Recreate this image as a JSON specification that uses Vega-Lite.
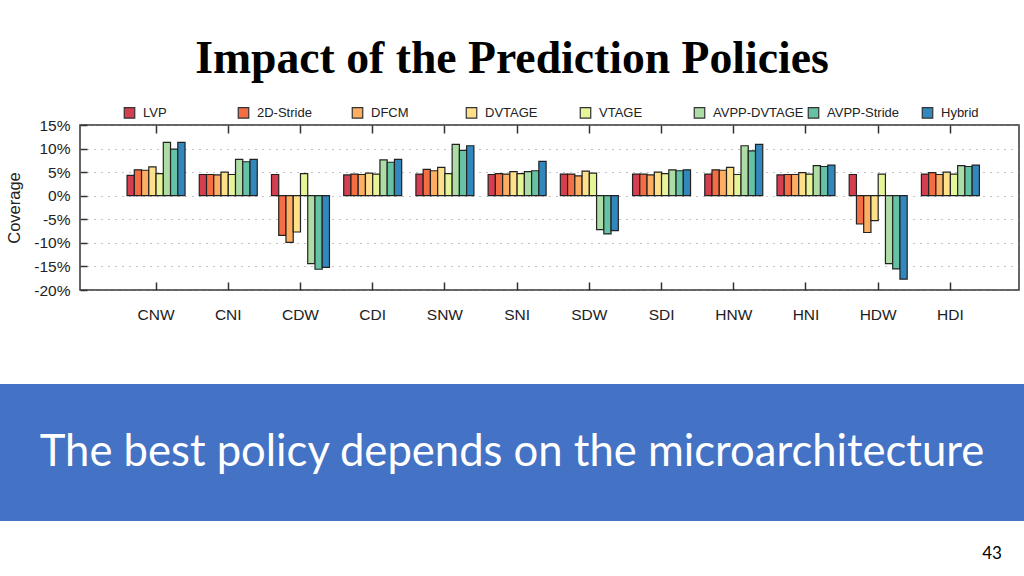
{
  "$schema": "https://vega.github.io/schema/vega-lite/v6.json",
  "background": "white",
  "padding": {"top": 36, "left": 0, "right": 0, "bottom": 0},
  "title": {
    "text": "Impact of the Prediction Policies",
    "font": "Liberation Serif",
    "fontSize": 45.7,
    "fontWeight": "bold",
    "color": "#000000",
    "anchor": "middle",
    "offset": 23
  },
  "config": {
    "view": {"stroke": null},
    "font": "Liberation Sans"
  },
  "spacing": 60,
  "vconcat": [
    {
      "spacing": 5,
      "hconcat": [
        {
          "width": 1,
          "height": 165,
          "data": {"values": [{"blank": ""}]},
          "mark": {"type": "text"},
          "encoding": {"text": {"field": "blank", "type": "nominal"}}
        },
        {
          "width": 939,
          "height": 165,
          "view": {"stroke": "#333333", "strokeWidth": 1.5},
          "data": {
            "values": [
              {"config": "CNW", "policy": "LVP", "coverage": 4.3},
              {"config": "CNW", "policy": "2D-Stride", "coverage": 5.5},
              {"config": "CNW", "policy": "DFCM", "coverage": 5.4},
              {"config": "CNW", "policy": "DVTAGE", "coverage": 6.1},
              {"config": "CNW", "policy": "VTAGE", "coverage": 4.7},
              {"config": "CNW", "policy": "AVPP-DVTAGE", "coverage": 11.3},
              {"config": "CNW", "policy": "AVPP-Stride", "coverage": 9.9},
              {"config": "CNW", "policy": "Hybrid", "coverage": 11.3},
              {"config": "CNI", "policy": "LVP", "coverage": 4.5},
              {"config": "CNI", "policy": "2D-Stride", "coverage": 4.5},
              {"config": "CNI", "policy": "DFCM", "coverage": 4.4},
              {"config": "CNI", "policy": "DVTAGE", "coverage": 5.0},
              {"config": "CNI", "policy": "VTAGE", "coverage": 4.5},
              {"config": "CNI", "policy": "AVPP-DVTAGE", "coverage": 7.7},
              {"config": "CNI", "policy": "AVPP-Stride", "coverage": 7.2},
              {"config": "CNI", "policy": "Hybrid", "coverage": 7.7},
              {"config": "CDW", "policy": "LVP", "coverage": 4.5},
              {"config": "CDW", "policy": "2D-Stride", "coverage": -8.4},
              {"config": "CDW", "policy": "DFCM", "coverage": -9.9},
              {"config": "CDW", "policy": "DVTAGE", "coverage": -7.7},
              {"config": "CDW", "policy": "VTAGE", "coverage": 4.7},
              {"config": "CDW", "policy": "AVPP-DVTAGE", "coverage": -14.4},
              {"config": "CDW", "policy": "AVPP-Stride", "coverage": -15.6},
              {"config": "CDW", "policy": "Hybrid", "coverage": -15.2},
              {"config": "CDI", "policy": "LVP", "coverage": 4.4},
              {"config": "CDI", "policy": "2D-Stride", "coverage": 4.6},
              {"config": "CDI", "policy": "DFCM", "coverage": 4.5},
              {"config": "CDI", "policy": "DVTAGE", "coverage": 4.8},
              {"config": "CDI", "policy": "VTAGE", "coverage": 4.6},
              {"config": "CDI", "policy": "AVPP-DVTAGE", "coverage": 7.6},
              {"config": "CDI", "policy": "AVPP-Stride", "coverage": 7.1},
              {"config": "CDI", "policy": "Hybrid", "coverage": 7.7},
              {"config": "SNW", "policy": "LVP", "coverage": 4.6},
              {"config": "SNW", "policy": "2D-Stride", "coverage": 5.6},
              {"config": "SNW", "policy": "DFCM", "coverage": 5.3},
              {"config": "SNW", "policy": "DVTAGE", "coverage": 6.0},
              {"config": "SNW", "policy": "VTAGE", "coverage": 4.7},
              {"config": "SNW", "policy": "AVPP-DVTAGE", "coverage": 10.9},
              {"config": "SNW", "policy": "AVPP-Stride", "coverage": 9.6},
              {"config": "SNW", "policy": "Hybrid", "coverage": 10.6},
              {"config": "SNI", "policy": "LVP", "coverage": 4.5},
              {"config": "SNI", "policy": "2D-Stride", "coverage": 4.7},
              {"config": "SNI", "policy": "DFCM", "coverage": 4.6},
              {"config": "SNI", "policy": "DVTAGE", "coverage": 5.1},
              {"config": "SNI", "policy": "VTAGE", "coverage": 4.7},
              {"config": "SNI", "policy": "AVPP-DVTAGE", "coverage": 5.1},
              {"config": "SNI", "policy": "AVPP-Stride", "coverage": 5.3},
              {"config": "SNI", "policy": "Hybrid", "coverage": 7.3},
              {"config": "SDW", "policy": "LVP", "coverage": 4.6},
              {"config": "SDW", "policy": "2D-Stride", "coverage": 4.6},
              {"config": "SDW", "policy": "DFCM", "coverage": 4.2},
              {"config": "SDW", "policy": "DVTAGE", "coverage": 5.2},
              {"config": "SDW", "policy": "VTAGE", "coverage": 4.8},
              {"config": "SDW", "policy": "AVPP-DVTAGE", "coverage": -7.2},
              {"config": "SDW", "policy": "AVPP-Stride", "coverage": -8.1},
              {"config": "SDW", "policy": "Hybrid", "coverage": -7.4},
              {"config": "SDI", "policy": "LVP", "coverage": 4.6},
              {"config": "SDI", "policy": "2D-Stride", "coverage": 4.6},
              {"config": "SDI", "policy": "DFCM", "coverage": 4.4},
              {"config": "SDI", "policy": "DVTAGE", "coverage": 5.0},
              {"config": "SDI", "policy": "VTAGE", "coverage": 4.7},
              {"config": "SDI", "policy": "AVPP-DVTAGE", "coverage": 5.5},
              {"config": "SDI", "policy": "AVPP-Stride", "coverage": 5.3},
              {"config": "SDI", "policy": "Hybrid", "coverage": 5.5},
              {"config": "HNW", "policy": "LVP", "coverage": 4.6},
              {"config": "HNW", "policy": "2D-Stride", "coverage": 5.5},
              {"config": "HNW", "policy": "DFCM", "coverage": 5.4},
              {"config": "HNW", "policy": "DVTAGE", "coverage": 6.0},
              {"config": "HNW", "policy": "VTAGE", "coverage": 4.5},
              {"config": "HNW", "policy": "AVPP-DVTAGE", "coverage": 10.6},
              {"config": "HNW", "policy": "AVPP-Stride", "coverage": 9.5},
              {"config": "HNW", "policy": "Hybrid", "coverage": 10.9},
              {"config": "HNI", "policy": "LVP", "coverage": 4.4},
              {"config": "HNI", "policy": "2D-Stride", "coverage": 4.5},
              {"config": "HNI", "policy": "DFCM", "coverage": 4.5},
              {"config": "HNI", "policy": "DVTAGE", "coverage": 4.9},
              {"config": "HNI", "policy": "VTAGE", "coverage": 4.6},
              {"config": "HNI", "policy": "AVPP-DVTAGE", "coverage": 6.4},
              {"config": "HNI", "policy": "AVPP-Stride", "coverage": 6.2},
              {"config": "HNI", "policy": "Hybrid", "coverage": 6.5},
              {"config": "HDW", "policy": "LVP", "coverage": 4.5},
              {"config": "HDW", "policy": "2D-Stride", "coverage": -6.0},
              {"config": "HDW", "policy": "DFCM", "coverage": -7.8},
              {"config": "HDW", "policy": "DVTAGE", "coverage": -5.3},
              {"config": "HDW", "policy": "VTAGE", "coverage": 4.6},
              {"config": "HDW", "policy": "AVPP-DVTAGE", "coverage": -14.4},
              {"config": "HDW", "policy": "AVPP-Stride", "coverage": -15.5},
              {"config": "HDW", "policy": "Hybrid", "coverage": -17.7},
              {"config": "HDI", "policy": "LVP", "coverage": 4.6},
              {"config": "HDI", "policy": "2D-Stride", "coverage": 4.9},
              {"config": "HDI", "policy": "DFCM", "coverage": 4.5},
              {"config": "HDI", "policy": "DVTAGE", "coverage": 5.0},
              {"config": "HDI", "policy": "VTAGE", "coverage": 4.6},
              {"config": "HDI", "policy": "AVPP-DVTAGE", "coverage": 6.4},
              {"config": "HDI", "policy": "AVPP-Stride", "coverage": 6.2},
              {"config": "HDI", "policy": "Hybrid", "coverage": 6.5}
            ]
          },
          "encoding": {
            "x": {
              "field": "config",
              "type": "nominal",
              "sort": ["CNW", "CNI", "CDW", "CDI", "SNW", "SNI", "SDW", "SDI", "HNW", "HNI", "HDW", "HDI"],
              "scale": {"paddingInner": 0.197, "paddingOuter": 0.6, "align": 0.543},
              "axis": {
                "title": null,
                "domain": false,
                "labelAngle": 0,
                "labelFont": "Liberation Sans",
                "labelFontSize": 15.5,
                "labelColor": "#222222",
                "labelPadding": 25,
                "tickSize": -8,
                "tickColor": "#333333",
                "tickWidth": 1.5
              }
            },
            "xOffset": {
              "field": "policy",
              "type": "nominal",
              "sort": ["LVP", "2D-Stride", "DFCM", "DVTAGE", "VTAGE", "AVPP-DVTAGE", "AVPP-Stride", "Hybrid"],
              "scale": {"paddingInner": 0, "paddingOuter": 0}
            },
            "y": {
              "field": "coverage",
              "type": "quantitative",
              "scale": {"domain": [-20, 15], "nice": false, "zero": true},
              "axis": {
                "title": "Coverage",
                "titleFont": "Liberation Sans",
                "titleFontSize": 16.5,
                "titleFontWeight": "normal",
                "titleColor": "#222222",
                "titlePadding": 11,
                "values": [-20, -15, -10, -5, 0, 5, 10, 15],
                "labelExpr": "datum.value + '%'",
                "labelFont": "Liberation Sans",
                "labelFontSize": 15.5,
                "labelColor": "#222222",
                "labelPadding": 17,
                "domain": false,
                "tickSize": -7,
                "tickColor": "#333333",
                "tickWidth": 1.5,
                "grid": true,
                "gridDash": [1, 6],
                "gridColor": "#888888",
                "gridWidth": 1.2
              }
            },
            "color": {
              "field": "policy",
              "type": "nominal",
              "sort": ["LVP", "2D-Stride", "DFCM", "DVTAGE", "VTAGE", "AVPP-DVTAGE", "AVPP-Stride", "Hybrid"],
              "scale": {
                "domain": ["LVP", "2D-Stride", "DFCM", "DVTAGE", "VTAGE", "AVPP-DVTAGE", "AVPP-Stride", "Hybrid"],
                "range": ["#d53e4f", "#f46d43", "#fdae61", "#fee08b", "#e6f598", "#abdda4", "#66c2a5", "#3288bd"]
              },
              "legend": {
                "title": null,
                "orient": "none",
                "legendX": 123,
                "legendY": -19,
                "direction": "horizontal",
                "columns": 8,
                "gridAlign": "all",
                "columnPadding": 1,
                "symbolType": "square",
                "symbolSize": 110,
                "symbolStrokeColor": "#333333",
                "symbolStrokeWidth": 1.2,
                "labelFont": "Liberation Sans",
                "labelFontSize": 13,
                "labelColor": "#222222",
                "labelOffset": 7,
                "labelLimit": 200
              }
            }
          },
          "layer": [
            {"mark": {"type": "bar", "stroke": "#222222", "strokeWidth": 1.2}},
            {
              "mark": {"type": "bar", "opacity": 0},
              "encoding": {
                "x": {
                  "field": "config",
                  "type": "nominal",
                  "sort": ["CNW", "CNI", "CDW", "CDI", "SNW", "SNI", "SDW", "SDI", "HNW", "HNI", "HDW", "HDI"],
                  "axis": {
                    "orient": "top",
                    "title": null,
                    "domain": false,
                    "labels": false,
                    "tickSize": -8,
                    "tickColor": "#333333",
                    "tickWidth": 1.5
                  }
                }
              }
            }
          ],
          "resolve": {"axis": {"x": "independent"}}
        }
      ]
    },
    {
      "spacing": 10,
      "vconcat": [
        {
          "width": 1024,
          "height": 137,
          "view": {"fill": "#4472C4", "stroke": null},
          "data": {"values": [{"message": "The best policy depends on the microarchitecture"}]},
          "mark": {"type": "text", "font": "Lato", "fontSize": 43.6, "color": "#ffffff", "baseline": "middle", "align": "center"},
          "encoding": {"text": {"field": "message", "type": "nominal"}}
        },
        {
          "width": 1024,
          "height": 46,
          "data": {"values": [{"page": "43"}]},
          "mark": {"type": "text", "font": "Lato", "fontSize": 17, "color": "#000000", "baseline": "middle", "align": "center", "dx": 480},
          "encoding": {"text": {"field": "page", "type": "nominal"}}
        }
      ]
    }
  ]
}
